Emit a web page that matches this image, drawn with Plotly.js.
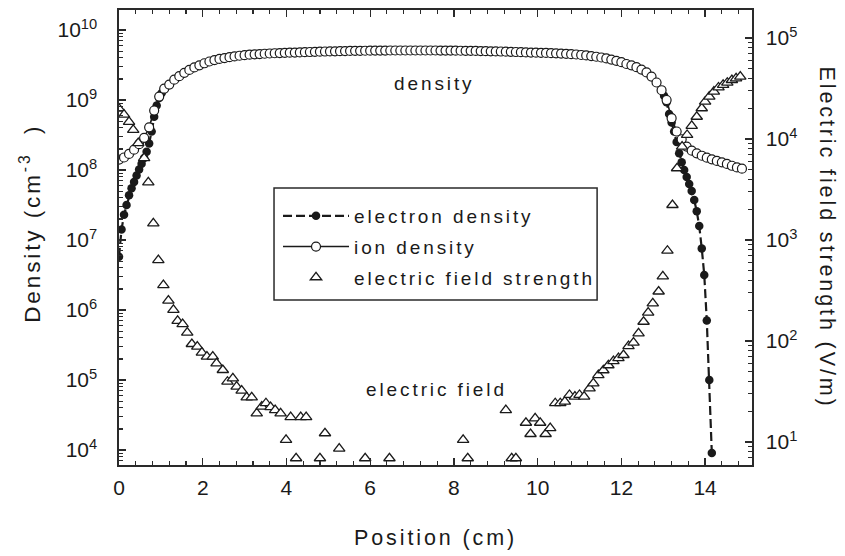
<!DOCTYPE html>
<html>
<head>
<meta charset="utf-8">
<script src="https://cdn.plot.ly/plotly-3.0.1.min.js"></script>
<style>
  html, body { margin: 0; padding: 0; background: #ffffff; }
  #chart { width: 845px; height: 556px; }
  /* the lettering of this figure is widely tracked (global so that text measuring sees it too) */
  .legendtext, .annotation-text { letter-spacing: 2.9px; }
</style>
</head>
<body>
<div id="chart"></div>
<script>
// ---- ion density (cm^-3) along the discharge gap ----
const ionPosition = [
  0.00, 0.12, 0.24, 0.36, 0.48, 0.60, 0.72, 0.84, 0.96, 1.08,
  1.20, 1.32, 1.44, 1.56, 1.68, 1.80, 1.92, 2.04, 2.16, 2.28,
  2.40, 2.52, 2.64, 2.76, 2.88, 3.00, 3.12, 3.24, 3.36, 3.48,
  3.60, 3.72, 3.84, 3.96, 4.08, 4.20, 4.32, 4.44, 4.56, 4.68,
  4.80, 4.92, 5.04, 5.16, 5.28, 5.40, 5.52, 5.64, 5.76, 5.88,
  6.00, 6.12, 6.24, 6.36, 6.48, 6.60, 6.72, 6.84, 6.96, 7.08,
  7.20, 7.32, 7.44, 7.56, 7.68, 7.80, 7.92, 8.04, 8.16, 8.28,
  8.40, 8.52, 8.64, 8.76, 8.88, 9.00, 9.12, 9.24, 9.36, 9.48,
  9.60, 9.72, 9.84, 9.96, 10.08, 10.20, 10.32, 10.44, 10.56, 10.68,
  10.80, 10.92, 11.04, 11.16, 11.28, 11.40, 11.52, 11.64, 11.76, 11.88,
  12.00, 12.12, 12.24, 12.36, 12.48, 12.60, 12.72, 12.84, 12.96, 13.08,
  13.20, 13.32, 13.44, 13.56, 13.68, 13.80, 13.92, 14.04, 14.16, 14.28,
  14.40, 14.52, 14.64, 14.76, 14.88
];
const ionDensity = [
  1.41e8, 1.51e8, 1.70e8, 1.95e8, 2.34e8, 2.88e8, 4.07e8, 7.08e8, 1.12e9, 1.45e9,
  1.66e9, 1.95e9, 2.19e9, 2.45e9, 2.69e9, 2.92e9, 3.13e9, 3.35e9, 3.55e9, 3.72e9,
  3.86e9, 3.98e9, 4.10e9, 4.20e9, 4.29e9, 4.37e9, 4.44e9, 4.49e9, 4.54e9, 4.58e9,
  4.62e9, 4.66e9, 4.69e9, 4.72e9, 4.74e9, 4.76e9, 4.79e9, 4.82e9, 4.85e9, 4.88e9,
  4.90e9, 4.93e9, 4.95e9, 4.97e9, 4.99e9, 5.01e9, 5.02e9, 5.04e9, 5.05e9, 5.06e9,
  5.07e9, 5.08e9, 5.09e9, 5.09e9, 5.10e9, 5.10e9, 5.10e9, 5.10e9, 5.10e9, 5.10e9,
  5.10e9, 5.10e9, 5.10e9, 5.10e9, 5.09e9, 5.09e9, 5.08e9, 5.07e9, 5.06e9, 5.05e9,
  5.04e9, 5.02e9, 5.01e9, 4.99e9, 4.97e9, 4.95e9, 4.93e9, 4.90e9, 4.88e9, 4.85e9,
  4.82e9, 4.79e9, 4.76e9, 4.74e9, 4.72e9, 4.70e9, 4.67e9, 4.64e9, 4.61e9, 4.57e9,
  4.52e9, 4.47e9, 4.40e9, 4.33e9, 4.25e9, 4.15e9, 4.05e9, 3.93e9, 3.78e9, 3.63e9,
  3.47e9, 3.27e9, 3.13e9, 2.95e9, 2.72e9, 2.48e9, 2.16e9, 1.78e9, 1.38e9, 1.00e9,
  5.50e8, 3.55e8, 2.75e8, 2.16e8, 1.89e8, 1.73e8, 1.60e8, 1.50e8, 1.42e8, 1.35e8,
  1.29e8, 1.22e8, 1.15e8, 1.09e8, 1.045e8
];

// ---- electron density (cm^-3): fine sampling in both sheaths ----
const electronPosition = [
  0.00, 0.06, 0.12, 0.18, 0.24, 0.30, 0.36, 0.42, 0.48, 0.54,
  0.60, 0.66, 0.72, 0.78, 0.84, 0.90, 0.96, 1.02, 1.08,
  1.20, 1.44, 1.80, 2.40, 3.00, 4.20, 5.40, 7.08, 8.76, 9.96,
  11.04, 11.64, 12.00, 12.36, 12.60, 12.84, 12.96,
  13.02, 13.08, 13.14, 13.20, 13.26, 13.32, 13.38, 13.44, 13.50, 13.56,
  13.62, 13.68, 13.74, 13.80, 13.86, 13.92, 13.98, 14.04, 14.10, 14.16
];
const electronDensity = [
  5.75e6, 1.41e7, 2.29e7, 3.16e7, 4.37e7, 5.50e7, 6.76e7, 8.32e7, 1.02e8, 1.23e8,
  1.48e8, 1.82e8, 2.40e8, 3.55e8, 5.75e8, 8.32e8, 1.07e9, 1.26e9, 1.41e9,
  1.66e9, 2.19e9, 2.92e9, 3.86e9, 4.37e9, 4.76e9, 5.01e9, 5.10e9, 4.99e9, 4.74e9,
  4.40e9, 3.93e9, 3.47e9, 2.95e9, 2.48e9, 1.78e9, 1.38e9,
  1.15e9, 9.33e8, 6.31e8, 4.79e8, 3.55e8, 2.51e8, 1.74e8, 1.29e8, 1.00e8, 7.94e7,
  6.31e7, 5.01e7, 3.72e7, 2.57e7, 1.58e7, 7.59e6, 3.16e6, 7.08e5, 1.00e5, 9.1e3
];

// ---- electric field strength (V/m) ----
const fieldPosition = [
  0.00, 0.12, 0.24, 0.34, 0.46, 0.60, 0.70, 0.82, 0.94, 1.06,
  1.18, 1.30, 1.40, 1.52, 1.63, 1.74, 1.87, 1.98, 2.10, 2.24,
  2.33, 2.48, 2.59, 2.72, 2.81, 2.93, 3.05, 3.17, 3.29, 3.41,
  3.51, 3.62, 3.73, 3.86, 3.99, 4.10, 4.23, 4.34, 4.47, 4.80,
  4.92, 5.26, 5.88, 6.46, 8.22, 8.33, 9.24, 9.38, 9.48, 9.72,
  9.83, 9.94, 10.06, 10.19, 10.30, 10.42, 10.54, 10.65, 10.76, 10.89,
  11.00, 11.11, 11.24, 11.33, 11.45, 11.57, 11.69, 11.81, 11.93, 12.05,
  12.17, 12.29, 12.41, 12.53, 12.64, 12.75, 12.89, 12.99, 13.10, 13.22,
  13.33, 13.45, 13.57, 13.68, 13.80, 13.92, 14.00, 14.10, 14.21, 14.32,
  14.43, 14.53, 14.64, 14.74, 14.84
];
const fieldStrength = [
  2.0e4, 1.74e4, 1.48e4, 1.23e4, 9.1e3, 6.46e3, 3.72e3, 1.46e3, 631, 358,
  251, 203, 158, 147, 121, 93.3, 87.9, 76.6, 70.0, 70.0,
  60.1, 51.6, 39.5, 42.7, 35.3, 32.2, 27.7, 27.7, 19.2, 22.4,
  24.2, 22.1, 20.7, 19.2, 10.5, 17.6, 6.9, 17.6, 17.6, 6.9,
  12.2, 8.6, 6.9, 6.9, 10.5, 6.9, 20.7, 6.9, 6.9, 15.5,
  12.0, 17.1, 15.5, 12.0, 13.7, 24.2, 24.2, 25.1, 29.2, 28.1,
  29.2, 28.1, 33.9, 38.0, 46.0, 51.3, 57.5, 63.1, 67.6, 72.6,
  89.1, 96.2, 119, 155, 191, 236, 309, 437, 783, 2220,
  5130, 8390, 10960, 13460, 16600, 20140, 23390, 26240, 29440, 32360,
  34280, 36060, 38370, 39810, 41400
];

// ---- axis tick labels ----
const densityTickVals = [1e4, 1e5, 1e6, 1e7, 1e8, 1e9, 1e10];
const densityTickText = ['10<sup>4</sup>', '10<sup>5</sup>', '10<sup>6</sup>', '10<sup>7</sup>',
                         '10<sup>8</sup>', '10<sup>9</sup>', '10<sup>10</sup>'];
const fieldTickVals = [1e1, 1e2, 1e3, 1e4, 1e5];
const fieldTickText = ['10<sup>1</sup>', '10<sup>2</sup>', '10<sup>3</sup>', '10<sup>4</sup>', '10<sup>5</sup>'];

const FONT = '"Liberation Sans", Arial, Helvetica, sans-serif';
const INK = '#1a1a1a';
const AXIS = '#2a2a2a';

// 2..9 × 10^d minor ticks for a log axis
function logMinorTicks(fromDecade, toDecade) {
  const out = [];
  for (let d = fromDecade; d < toDecade; d++) {
    for (let k = 2; k <= 9; k++) out.push(k * Math.pow(10, d));
  }
  return out;
}

const traces = [
  {
    name: 'electron density', legendgroup: 'e',
    x: electronPosition, y: electronDensity,
    type: 'scatter', mode: 'lines+markers',
    line: { color: INK, width: 2.2, dash: '9px,4px' },
    marker: { symbol: 'circle', size: 8.5, color: INK, line: { width: 0 } }
  },
  {
    name: 'ion density', legendgroup: 'i',
    x: ionPosition, y: ionDensity,
    type: 'scatter', mode: 'lines+markers',
    line: { color: INK, width: 1.6 },
    marker: { symbol: 'circle', size: 9, color: '#ffffff', line: { color: INK, width: 1.2 } }
  },
  {
    name: 'electric field strength', legendgroup: 'f',
    x: fieldPosition, y: fieldStrength, yaxis: 'y2',
    type: 'scatter', mode: 'markers',
    marker: { symbol: 'triangle-up', size: 10, color: '#ffffff', line: { color: INK, width: 1.3 } }
  }
];

const tickFont = { family: FONT, size: 21, color: INK };

const layout = {
  width: 845, height: 556,
  margin: { l: 119, r: 93, t: 10, b: 91 },
  paper_bgcolor: '#ffffff', plot_bgcolor: '#ffffff',
  font: { family: FONT, color: INK },
  showlegend: true,
  xaxis: {
    range: [0, 15.12],
    tickmode: 'linear', tick0: 0, dtick: 2,
    ticks: 'inside', ticklen: 7, tickwidth: 1.3, tickcolor: AXIS,
    minor: { tick0: 0, dtick: 0.4, ticks: 'inside', ticklen: 4, tickwidth: 1.1, tickcolor: AXIS, showgrid: false },
    showline: true, linecolor: AXIS, linewidth: 1.6, mirror: 'ticks',
    showgrid: false, zeroline: false,
    tickfont: tickFont, ticklabelstandoff: 3
  },
  yaxis: {
    type: 'log', range: [3.786, 10.286],
    tickmode: 'array', tickvals: densityTickVals, ticktext: densityTickText,
    ticks: 'inside', ticklen: 7, tickwidth: 1.3, tickcolor: AXIS,
    minor: { tickmode: 'array', tickvals: logMinorTicks(3, 10), ticks: 'inside', ticklen: 4, tickwidth: 1.1, tickcolor: AXIS, showgrid: false },
    showline: true, linecolor: AXIS, linewidth: 1.6,
    showgrid: false, zeroline: false,
    tickfont: tickFont, ticklabelstandoff: 16
  },
  yaxis2: {
    type: 'log', range: [0.772, 5.277],
    overlaying: 'y', side: 'right',
    tickmode: 'array', tickvals: fieldTickVals, ticktext: fieldTickText,
    ticks: 'inside', ticklen: 7, tickwidth: 1.3, tickcolor: AXIS,
    minor: { tickmode: 'array', tickvals: logMinorTicks(0, 5), ticks: 'inside', ticklen: 4, tickwidth: 1.1, tickcolor: AXIS, showgrid: false },
    showline: true, linecolor: AXIS, linewidth: 1.6,
    showgrid: false, zeroline: false,
    tickfont: tickFont, ticklabelstandoff: 8
  },
  // the legend entries sit inside a framed white box drawn as a shape
  legend: {
    x: 0.2512, y: 0.589, xanchor: 'left', yanchor: 'top',
    bgcolor: 'rgba(0,0,0,0)', borderwidth: 0,
    font: { family: FONT, size: 19, color: INK },
    itemwidth: 66, tracegroupgap: 3
  },
  shapes: [
    { type: 'rect', xref: 'paper', yref: 'paper', layer: 'below',
      x0: 0.2449, x1: 0.7553, y0: 0.3626, y1: 0.6088,
      fillcolor: '#ffffff', line: { color: AXIS, width: 1.5 } }
  ],
  annotations: [
    { text: 'density', xref: 'paper', yref: 'paper', x: 0.499, y: 0.839,
      xanchor: 'center', yanchor: 'middle', showarrow: false,
      font: { family: FONT, size: 19, color: INK } },
    { text: 'electric field', xref: 'paper', yref: 'paper', x: 0.501, y: 0.167,
      xanchor: 'center', yanchor: 'middle', showarrow: false,
      font: { family: FONT, size: 19, color: INK } },
    { text: 'Position (cm)', xref: 'paper', yref: 'paper', x: 0.500, y: -0.160,
      xanchor: 'center', yanchor: 'middle', showarrow: false,
      font: { family: FONT, size: 21.5, color: INK } },
    { text: 'Density (cm<sup>-3</sup>&nbsp; )', xref: 'paper', yref: 'paper', x: -0.1406, y: 0.530,
      xanchor: 'center', yanchor: 'middle', showarrow: false, textangle: -90,
      font: { family: FONT, size: 22.5, color: INK } },
    { text: 'Electric field strength (V/m)', xref: 'paper', yref: 'paper', x: 1.1185, y: 0.50,
      xanchor: 'center', yanchor: 'middle', showarrow: false, textangle: 90,
      font: { family: FONT, size: 21.5, color: INK } }
  ]
};

Plotly.newPlot('chart', traces, layout, { displayModeBar: false, staticPlot: true });
</script>
</body>
</html>
